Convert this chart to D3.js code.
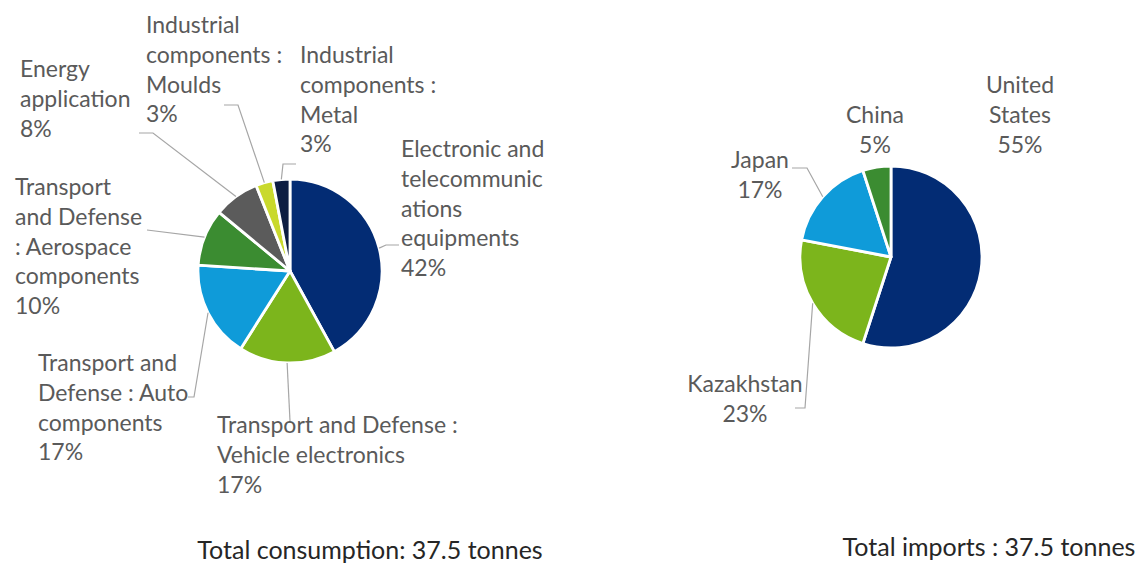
<!DOCTYPE html>
<html>
<head>
<meta charset="utf-8">
<script src="https://cdn.jsdelivr.net/npm/d3@7"></script>
<style>
  html, body { margin: 0; padding: 0; background: #ffffff; }
  svg { display: block; }
  .lbl { font-family: Lato, "Open Sans", sans-serif; font-size: 23px; fill: #5a5a5a; }
  .total { font-family: Lato, "Open Sans", sans-serif; font-size: 25px; fill: #262626; }
  .leader { fill: none; stroke: #a6a6a6; stroke-width: 1.2px; }
</style>
</head>
<body>
<svg id="chart" width="1138" height="564"></svg>
<script>
// Consumption by application (share of total, %)
const consumptionCategories = [
  "Electronic and telecommunications equipments",
  "Transport and Defense : Vehicle electronics",
  "Transport and Defense : Auto components",
  "Transport and Defense : Aerospace components",
  "Energy application",
  "Industrial components : Moulds",
  "Industrial components : Metal"
];
const consumptionShares = [42, 17, 17, 10, 8, 3, 3];
const consumptionLabelLines = [
  ["Electronic and", "telecommunic", "ations", "equipments"],
  ["Transport and Defense :", "Vehicle electronics"],
  ["Transport and", "Defense : Auto", "components"],
  ["Transport", "and Defense", ": Aerospace", "components"],
  ["Energy", "application"],
  ["Industrial", "components :", "Moulds"],
  ["Industrial", "components :", "Metal"]
];

// Imports by origin country (share of total, %)
const importCountries = ["United States", "Kazakhstan", "Japan", "China"];
const importShares = [55, 23, 17, 5];
const importLabelLines = [["United", "States"], ["Kazakhstan"], ["Japan"], ["China"]];

const consumptionTotal = "Total consumption: 37.5 tonnes";
const importTotal = "Total imports : 37.5 tonnes";

// Slice colours
const consumptionColors = ["#032c74", "#7cb51c", "#0f9bd9", "#3b8c31", "#5b5b5b", "#c9d92c", "#0d1d42"];
const importColors = ["#032c74", "#7cb51c", "#0f9bd9", "#3b8c31"];

const svg = d3.select("#chart");

function drawPie(cfg) {
  const g = svg.append("g").attr("transform", `translate(${cfg.cx},${cfg.cy})`);
  const pie = d3.pie().sort(null).value(d => d)(cfg.values);
  const arc = d3.arc().innerRadius(0).outerRadius(cfg.r);
  const edge = d3.arc().innerRadius(cfg.r).outerRadius(cfg.r);

  g.selectAll("path.slice")
    .data(pie)
    .join("path")
    .attr("class", "slice")
    .attr("d", arc)
    .attr("fill", (d, i) => cfg.colors[i])
    .attr("stroke", "#ffffff")
    .attr("stroke-width", 2.8)
    .attr("stroke-linejoin", "round");

  // leader lines from the slice rim to the label
  pie.forEach((d, i) => {
    const lay = cfg.layout[i];
    if (!lay.leader) return;
    const [ex, ey] = edge.centroid(d);
    const pts = [[cfg.cx + ex, cfg.cy + ey]].concat(lay.leader);
    svg.append("path")
      .attr("class", "leader")
      .attr("d", d3.line()(pts));
  });

  // labels: category lines followed by the percentage
  pie.forEach((d, i) => {
    const lay = cfg.layout[i];
    const lines = cfg.lines[i].concat([`${d.data}%`]);
    const t = svg.append("text")
      .attr("class", "lbl")
      .attr("text-anchor", lay.anchor);
    lines.forEach((s, k) => {
      t.append("tspan")
        .attr("x", lay.x)
        .attr("y", lay.y + k * cfg.lineStep)
        .text(s);
    });
  });
}

drawPie({
  cx: 290, cy: 271, r: 92,
  values: consumptionShares,
  colors: consumptionColors,
  lines: consumptionLabelLines,
  lineStep: 29.8,
  layout: [
    { x: 401, y: 157, anchor: "start", leader: [[386, 245], [399, 245]] },
    { x: 217, y: 433, anchor: "start", leader: [[290, 421]] },
    { x: 38,  y: 371, anchor: "start", leader: [[194, 397], [188, 397]] },
    { x: 15,  y: 195, anchor: "start", leader: [[147, 230]] },
    { x: 20,  y: 77,  anchor: "start", leader: [[153, 133], [139, 133]] },
    { x: 146, y: 33,  anchor: "start", leader: [[238, 105], [224, 105]] },
    { x: 300, y: 63,  anchor: "start", leader: [[283, 164], [296, 164]] }
  ]
});

drawPie({
  cx: 891, cy: 257, r: 91,
  values: importShares,
  colors: importColors,
  lines: importLabelLines,
  lineStep: 29.8,
  layout: [
    { x: 1020, y: 93,  anchor: "middle" },
    { x: 745,  y: 392, anchor: "middle", leader: [[805, 408], [795, 408]] },
    { x: 760,  y: 168, anchor: "middle", leader: [[807, 168], [792, 168]] },
    { x: 875,  y: 123, anchor: "middle" }
  ]
});

svg.append("text").attr("class", "total")
  .attr("x", 370).attr("y", 559).attr("text-anchor", "middle")
  .text(consumptionTotal);
svg.append("text").attr("class", "total")
  .attr("x", 989).attr("y", 556).attr("text-anchor", "middle")
  .text(importTotal);
</script>
</body>
</html>
